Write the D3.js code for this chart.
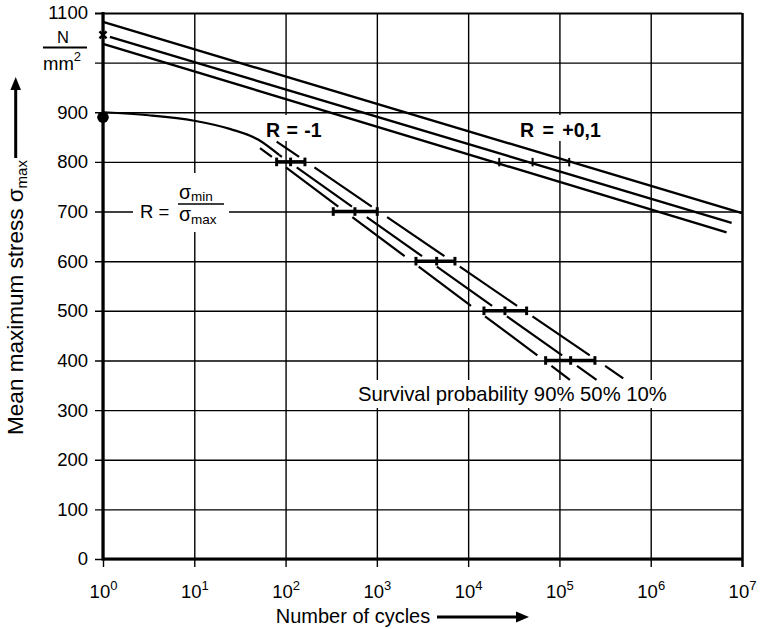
<!DOCTYPE html>
<html><head><meta charset="utf-8">
<script src="https://cdn.jsdelivr.net/npm/d3@7"></script>
<style>
body{margin:0;background:#fff}
svg{display:block}
text{font-family:"Liberation Sans",Arial,sans-serif;fill:#000}
</style>
</head><body><svg id="c" width="761" height="629"></svg>
<script>
// ---- data ----
const yTicks = [0,100,200,300,400,500,600,700,800,900,1000,1100];
const yTickLabels = ['0','100','200','300','400','500','600','700','800','900','','1100'];
const xExponents = [0,1,2,3,4,5,6,7];

// R = +0,1 : three straight S-N lines [cycles, stress]
const rPosTop = [[1, 1082], [1e7, 697]];
const rPosMid = [[1.19, 1052], [7.7e6, 677]];
const rPosBot = [[1, 1038], [6.78e6, 658]];
const rPosTicks = [21900, 50800, 128000];   // at 800 N/mm2
const rPosTickLevel = 800;
const rPosMarker = [1, 1056];

// R = -1 : start curve (50 %) and scatter band lines
const rNegCurve = [[1, 900], [3.16, 894], [10, 883], [25, 866], [50, 845], [85, 814]];
const rNegStart = [1, 890];
const line90 = [[52.5, 828], [130300, 361]];
const line50 = [[85, 814], [255000, 361]];
const line10 = [[79.8, 841], [500000, 364]];
const barLevels = [800, 700, 600, 500, 400];
const bar90 = [79.8, 333, 2680, 14900, 70600];
const bar50 = [113.5, 575, 4520, 25300, 132700];
const bar10 = [163, 1010, 7170, 43700, 244800];

// ---- chart ----
const svg = d3.select('#c');
const x = d3.scaleLog().domain([1, 1e7]).range([103, 742]);
const y = d3.scaleLinear().domain([0, 1100]).range([559, 13]);
const W = x(1e7) - x(1), H = y(0) - y(1100);

// y axis with grid
const gy = svg.append('g').attr('transform', `translate(${x(1)},0)`)
  .call(d3.axisLeft(y).tickValues(yTicks).tickSize(-W).tickSizeOuter(0).tickPadding(15)
    .tickFormat((d, i) => yTickLabels[i]));
gy.select('.domain').remove();
gy.selectAll('.tick line').attr('x1', -8).attr('stroke', '#000')
  .attr('stroke-width', d => d === 1100 ? 2.2 : 1.4);
gy.selectAll('.tick text').attr('font-size', 18.5).attr('fill', '#000')
  .attr('font-family', '"Liberation Sans",Arial,sans-serif');

// x axis with grid
const gx = svg.append('g').attr('transform', `translate(0,${y(0)})`)
  .call(d3.axisBottom(x).tickValues(xExponents.map(e => Math.pow(10, e))).tickSize(-H).tickSizeOuter(0).tickFormat(() => ''));
gx.select('.domain').remove();
gx.selectAll('.tick line').attr('y1', 8).attr('stroke', '#000')
  .attr('stroke-width', (d, i) => i === xExponents.length - 1 ? 2.5 : 1.4);
gx.selectAll('.tick text').remove();
gx.selectAll('.tick').append('text')
  .attr('y', 39).attr('text-anchor', 'middle').attr('font-size', 18.5)
  .each(function(d, i) {
    const t = d3.select(this);
    t.append('tspan').text('10');
    t.append('tspan').attr('font-size', 13).attr('dy', -8).text(xExponents[i]);
  });

// main axis lines
svg.append('line').attr('x1', x(1)).attr('x2', x(1)).attr('y1', y(1100) - 1).attr('y2', y(0) + 1.5)
  .attr('stroke', '#000').attr('stroke-width', 3.2);
svg.append('line').attr('x1', x(1)).attr('x2', x(1e7) + 1).attr('y1', y(0)).attr('y2', y(0))
  .attr('stroke', '#000').attr('stroke-width', 3.2);

// white label boxes (interrupt grid)
const boxes = [[133, 173, 96, 59], [260, 115, 68, 26], [514, 115, 94, 26], [352, 380, 322, 28]];
svg.append('g').selectAll('rect').data(boxes).join('rect')
  .attr('x', d => d[0]).attr('y', d => d[1]).attr('width', d => d[2]).attr('height', d => d[3])
  .attr('fill', '#fff');

const line = d3.line().x(d => x(d[0])).y(d => y(d[1]));

// R = +0,1 lines
svg.append('g').selectAll('path').data([rPosTop, rPosMid, rPosBot]).join('path')
  .attr('d', line).attr('fill', 'none').attr('stroke', '#000').attr('stroke-width', 2.4);
svg.append('g').selectAll('line').data(rPosTicks).join('line')
  .attr('x1', d => x(d)).attr('x2', d => x(d))
  .attr('y1', y(rPosTickLevel) - 4).attr('y2', y(rPosTickLevel) + 4.5)
  .attr('stroke', '#000').attr('stroke-width', 2);
// x marker
const mx = x(rPosMarker[0]), my = y(rPosMarker[1]);
svg.append('path').attr('d', `M${mx-3.5},${my-3.5}L${mx+3.5},${my+3.5}M${mx+3.5},${my-3.5}L${mx-3.5},${my+3.5}`)
  .attr('stroke', '#000').attr('stroke-width', 2.6);

// R = -1 curve
svg.append('path').datum(rNegCurve)
  .attr('d', d3.line().x(d => x(d[0])).y(d => y(d[1])).curve(d3.curveMonotoneX))
  .attr('fill', 'none').attr('stroke', '#000').attr('stroke-width', 2.2);
svg.append('circle').attr('cx', x(rNegStart[0])).attr('cy', y(rNegStart[1])).attr('r', 5.8).attr('fill', '#000');

// scatter band lines, interrupted at each bar level
const gapAbove = 5, gapBelow = 5.5;
function brokenSegments(pts) {
  const x0 = x(pts[0][0]), y0 = y(pts[0][1]), x1 = x(pts[1][0]), y1 = y(pts[1][1]);
  const cuts = [y0];
  barLevels.map(v => y(v)).filter(v => v > y0 && v < y1).forEach(v => { cuts.push(v - gapAbove, v + gapBelow); });
  cuts.push(y1);
  const segs = [];
  for (let i = 0; i < cuts.length; i += 2) {
    const ya = Math.max(cuts[i], y0), yb = Math.min(cuts[i + 1], y1);
    if (yb > ya) {
      const fx = yy => x0 + (x1 - x0) * (yy - y0) / (y1 - y0);
      segs.push([fx(ya), ya, fx(yb), yb]);
    }
  }
  return segs;
}
const bandSegs = [line90, line50, line10].flatMap(brokenSegments);
svg.append('g').selectAll('line').data(bandSegs).join('line')
  .attr('x1', d => d[0]).attr('y1', d => d[1]).attr('x2', d => d[2]).attr('y2', d => d[3])
  .attr('stroke', '#000').attr('stroke-width', 2.2);

// scatter bars
const bars = barLevels.map((v, i) => ({ v, a: bar90[i], m: bar50[i], b: bar10[i] }));
const gb = svg.append('g');
gb.selectAll('line.bar').data(bars).join('line').attr('class', 'bar')
  .attr('x1', d => x(d.a)).attr('x2', d => x(d.b)).attr('y1', d => y(d.v)).attr('y2', d => y(d.v))
  .attr('stroke', '#000').attr('stroke-width', 3.6);
gb.selectAll('line.tk').data(bars.flatMap(d => [[d.a, d.v], [d.m, d.v], [d.b, d.v]])).join('line').attr('class', 'tk')
  .attr('x1', d => x(d[0])).attr('x2', d => x(d[0])).attr('y1', d => y(d[1]) - 4.3).attr('y2', d => y(d[1]) + 4.3)
  .attr('stroke', '#000').attr('stroke-width', 3);

// labels
svg.append('text').attr('x', 266).attr('y', 136.5).attr('font-size', 19.5).attr('font-weight', 'bold')
  .attr('word-spacing', 1).text('R = -1');
svg.append('text').attr('x', 520).attr('y', 137).attr('font-size', 19.5).attr('font-weight', 'bold')
  .attr('word-spacing', 3).text('R = +0,1');
svg.append('text').attr('x', 358).attr('y', 400.5).attr('font-size', 20.3).text('Survival probability 90% 50% 10%');

// R = sigma_min / sigma_max
svg.append('text').attr('x', 140).attr('y', 217.5).attr('font-size', 18.5).text('R =');
const num = svg.append('text').attr('x', 179).attr('y', 198.5).attr('font-size', 19.5);
num.append('tspan').text('σ');
num.append('tspan').attr('font-size', 13.5).attr('dy', 2).text('min');
svg.append('line').attr('x1', 178).attr('x2', 224).attr('y1', 204).attr('y2', 204).attr('stroke', '#000').attr('stroke-width', 1.6);
const den = svg.append('text').attr('x', 179).attr('y', 221).attr('font-size', 19.5);
den.append('tspan').text('σ');
den.append('tspan').attr('font-size', 13.5).attr('dy', 3).text('max');

// unit N/mm2
svg.append('text').attr('x', 63).attr('y', 42.7).attr('text-anchor', 'middle').attr('font-size', 16.5).text('N');
svg.append('line').attr('x1', 43).attr('x2', 87).attr('y1', 47.5).attr('y2', 47.5).attr('stroke', '#000').attr('stroke-width', 1.8);
const mm = svg.append('text').attr('x', 43).attr('y', 70).attr('font-size', 18.5);
mm.append('tspan').text('mm');
mm.append('tspan').attr('font-size', 13).attr('dy', -9).text('2');

// y title
const yt = svg.append('text').attr('transform', 'translate(23,297.5) rotate(-90)').attr('text-anchor', 'middle').attr('font-size', 22.5);
yt.append('tspan').text('Mean maximum stress σ');
yt.append('tspan').attr('font-size', 15).attr('dy', 4).text('max');
// y arrow
svg.append('line').attr('x1', 15.7).attr('x2', 15.7).attr('y1', 158).attr('y2', 88).attr('stroke', '#000').attr('stroke-width', 3);
svg.append('path').attr('d', 'M15.7,77L21,90L10.4,90Z').attr('fill', '#000');

// x title
svg.append('text').attr('x', 353).attr('y', 623).attr('text-anchor', 'middle').attr('font-size', 20).text('Number of cycles');
svg.append('line').attr('x1', 437).attr('x2', 518).attr('y1', 617).attr('y2', 617).attr('stroke', '#000').attr('stroke-width', 3);
svg.append('path').attr('d', 'M529,617L516,611.5L516,622.5Z').attr('fill', '#000');
</script></body></html>
